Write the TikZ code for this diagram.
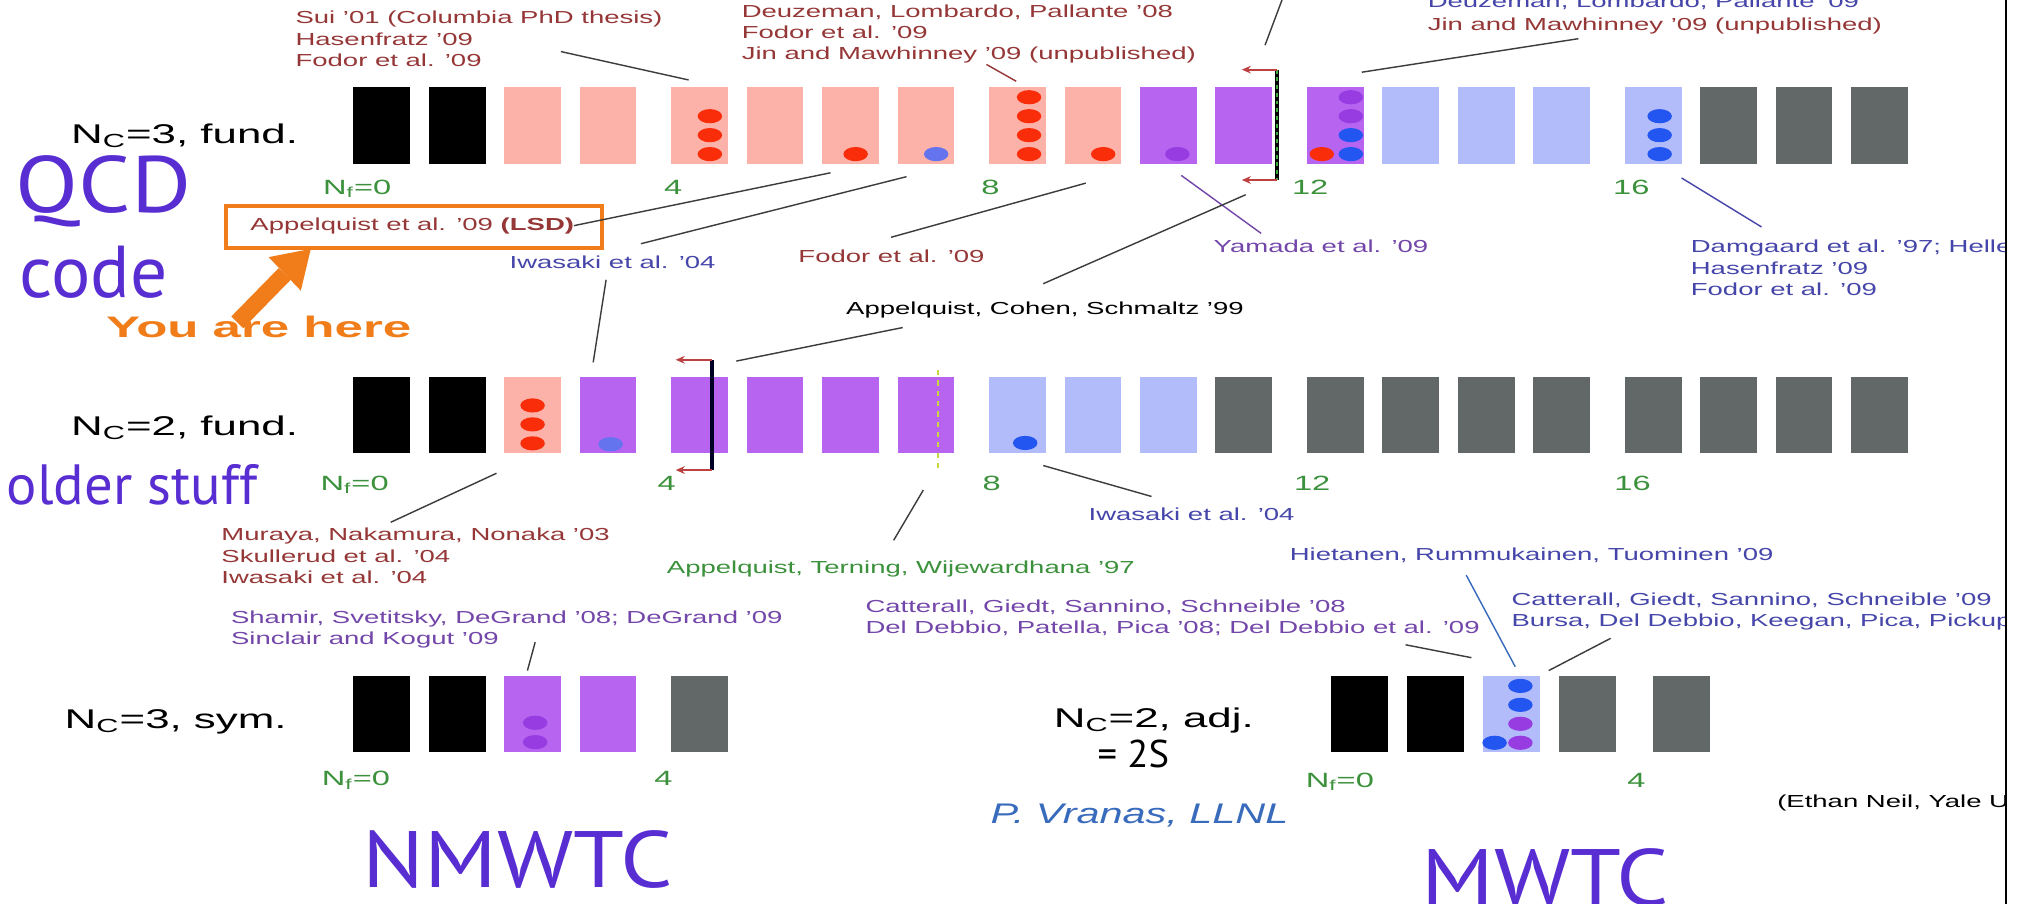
\documentclass[tikz,border=0pt]{standalone}
\usepackage{fontspec}
\setmainfont{Liberation Sans}
\newfontfamily\gillfont{PT Sans}
\usepackage{graphicx}
\usetikzlibrary{arrows.meta}

\definecolor{pinkc}{RGB}{252,178,168}
\definecolor{purpc}{RGB}{183,100,240}
\definecolor{bluec}{RGB}{178,188,250}
\definecolor{grayc}{RGB}{98,104,104}
\definecolor{dotr}{RGB}{250,45,10}
\definecolor{dotb}{RGB}{35,85,240}
\definecolor{dotp}{RGB}{150,60,225}
\definecolor{dotbp}{RGB}{100,115,238}
\definecolor{redtxt}{RGB}{150,55,55}
\definecolor{bluetxt}{RGB}{70,70,170}
\definecolor{purptxt}{RGB}{115,70,170}
\definecolor{greentxt}{RGB}{60,145,60}
\definecolor{leadc}{RGB}{60,60,60}
\definecolor{bigviolet}{RGB}{88,45,210}
\definecolor{orng}{RGB}{240,125,25}
\definecolor{arrred}{RGB}{190,65,65}
\definecolor{dashg}{RGB}{60,170,60}
\definecolor{dashy}{RGB}{200,215,60}

% stretched text block, first line on the baseline
\newcommand{\sx}[2][1.58]{\scalebox{#1}[1]{\begin{tabular}[t]{@{}l@{}}#2\end{tabular}}}
% wide caps for the overlay words
\newcommand{\wide}[1]{\scalebox{1.15}[1]{#1}}
% one flavour dot inside a cell
\newcommand{\blob}[4]{\fill[#4] ([shift={(#2,#3)}]#1.south west) ellipse [x radius=9.5pt, y radius=5.5pt];}

\begin{document}
\begin{tikzpicture}[x=1pt,y=-1pt,
    cell/.style={minimum width=44pt,minimum height=59.5pt,inner sep=0pt,outer sep=0pt,anchor=north west},
    reftxt/.style={inner sep=0pt,anchor=base west,font=\fontsize{13.5}{16.5}\selectfont},
    rowtxt/.style={inner sep=0pt,anchor=base west,font=\fontsize{21}{24}\selectfont},
    numtxt/.style={inner sep=0pt,anchor=base,text=greentxt,font=\fontsize{16}{18}\selectfont},
    bigtxt/.style={inner sep=0pt,anchor=base west,text=bigviolet,font=\gillfont\fontsize{60}{60}\selectfont},
    lead/.style={draw=leadc,line width=1.1pt},
    brarrow/.style={draw=arrred,line width=1.5pt,-{Stealth[length=7pt,width=6pt]}}]
\useasboundingbox (0,0) rectangle (1568,701);
\fill[white] (0,0) rectangle (1568,701);

\begin{scope}
\clip (0,0) rectangle (1555,701);

% ---- N_C=3, fund.
\foreach \c [count=\i from 0] in {black,black,pinkc,pinkc,pinkc,pinkc,pinkc,pinkc,pinkc,pinkc,purpc,purpc,purpc,bluec,bluec,bluec,bluec,grayc,grayc,grayc}
  \node[cell,fill=\c] (a\i) at ({274+58.5*\i+12.5*int(\i/4)},67.5) {};
\foreach \k in {0,1,2} {\blob{a4}{30}{-7.5-14.7*\k}{dotr}}
\blob{a6}{26}{-7.5}{dotr}
\blob{a7}{30}{-7.5}{dotbp}
\foreach \k in {0,...,3} {\blob{a8}{31}{-7.5-14.7*\k}{dotr}}
\blob{a9}{30}{-7.5}{dotr}
\blob{a10}{29}{-7.5}{dotp}
\blob{a12}{34}{-7.5}{dotb}
\blob{a12}{34}{-22.2}{dotb}
\blob{a12}{34}{-36.9}{dotp}
\blob{a12}{34}{-51.6}{dotp}
\blob{a12}{11.5}{-7.5}{dotr}
\foreach \k in {0,1,2} {\blob{a16}{27}{-7.5-14.7*\k}{dotb}}

% ---- N_C=2, fund.
\foreach \c [count=\i from 0] in {black,black,pinkc,purpc,purpc,purpc,purpc,purpc,bluec,bluec,bluec,grayc,grayc,grayc,grayc,grayc,grayc,grayc,grayc,grayc}
  \node[cell,fill=\c] (b\i) at ({274+58.5*\i+12.5*int(\i/4)},292) {};
\foreach \k in {0,1,2} {\blob{b2}{22}{-7.7-14.7*\k}{dotr}}
\blob{b3}{24}{-7}{dotbp}
\blob{b8}{28}{-8}{dotb}

% ---- N_C=3, sym.
\foreach \c [count=\i from 0] in {black,black,purpc,purpc,grayc}
  \node[cell,fill=\c] (c\i) at ({274+58.5*\i+12.5*int(\i/4)},524) {};
\blob{c2}{24}{-8}{dotp}
\blob{c2}{24}{-23}{dotp}

% ---- N_C=2, adj.
\foreach \c [count=\i from 0] in {black,black,bluec,grayc,grayc}
  \node[cell,fill=\c] (d\i) at ({1032+59*\i+14*int(\i/4)},524) {};
\blob{d2}{29}{-7.5}{dotp}
\blob{d2}{29}{-22.2}{dotp}
\blob{d2}{29}{-36.9}{dotb}
\blob{d2}{29}{-51.6}{dotb}
\blob{d2}{9}{-7.5}{dotb}

% brackets
\coordinate (k1t) at (990,54);
\coordinate (k1b) at (990,139.6);
\coordinate (k1tl) at (963,54);
\coordinate (k1bl) at (963,139.6);
\draw[line width=3pt] (k1t) -- (k1b);
\draw[line width=1.8pt,dashg,dash pattern=on 3pt off 3pt] (k1t) -- (k1b);
\draw[brarrow] (k1t) -- (k1tl);
\draw[brarrow] (k1b) -- (k1bl);
\coordinate (k2t) at (552,279);
\coordinate (k2b) at (552,364.5);
\coordinate (k2tl) at (524,279);
\coordinate (k2bl) at (524,364.5);
\draw[line width=3pt,black!85!blue] (k2t) -- (k2b);
\draw[brarrow] (k2t) -- (k2tl);
\draw[brarrow] (k2b) -- (k2bl);
\coordinate (k3t) at (727.6,287);
\coordinate (k3b) at (727.6,364.5);
\draw[line width=1.8pt,dashy,dash pattern=on 4pt off 4pt] (k3t) -- (k3b);

% row labels and flavour numbers
\node[rowtxt] (r1) at (55,111) {\sx[1.62]{N\textsubscript{C}=3, fund.}};
\node[rowtxt] (r2) at (55,338) {\sx[1.62]{N\textsubscript{C}=2, fund.}};
\node[rowtxt] (r3) at (50,565) {\sx[1.62]{N\textsubscript{C}=3, sym.}};
\node[rowtxt] (r4) at (817,564) {\sx[1.62]{N\textsubscript{C}=2, adj.}};
\node[numtxt] at (277,150.5) {\sx{N\textsubscript{f}=0}};
\node[numtxt] at (522,150.5) {\sx{4}};
\node[numtxt] at (768,150.5) {\sx{8}};
\node[numtxt] at (1016,150.5) {\sx{12}};
\node[numtxt] at (1265,150.5) {\sx{16}};
\node[numtxt] at (275,380) {\sx{N\textsubscript{f}=0}};
\node[numtxt] at (517,380) {\sx{4}};
\node[numtxt] at (769,380) {\sx{8}};
\node[numtxt] at (1017.6,380) {\sx{12}};
\node[numtxt] at (1266,380) {\sx{16}};
\node[numtxt] at (276,609.5) {\sx{N\textsubscript{f}=0}};
\node[numtxt] at (514.5,609.5) {\sx{4}};
\node[numtxt] at (1039,610.5) {\sx{N\textsubscript{f}=0}};
\node[numtxt] at (1269,610.5) {\sx{4}};

% references
\node[reftxt,text=redtxt] (sui) at (229,18.5) {\sx{Sui '01 (Columbia PhD thesis)\\Hasenfratz '09\\Fodor et al. '09}};
\node[reftxt,text=redtxt] (deu08) at (575,13.5) {\sx{Deuzeman, Lombardo, Pallante '08\\Fodor et al. '09\\Jin and Mawhinney '09 (unpublished)}};
\node[reftxt,text=bluetxt] (deu09) at (1107,6) {\sx{Deuzeman, Lombardo, Pallante '09}};
\node[reftxt,text=redtxt] (jin09) at (1107,23.5) {\sx{Jin and Mawhinney '09 (unpublished)}};
\node[draw=orng,line width=3pt,minimum width=291pt,minimum height=33pt,inner sep=0pt,anchor=north west] (lsdbox) at (174,158) {};
\node[reftxt,text=redtxt] (lsd) at (194,179) {\sx{Appelquist et al. '09 \textbf{(LSD)}}};
\node[reftxt,text=bluetxt] (iwa1) at (395,208.5) {\sx{Iwasaki et al. '04}};
\node[reftxt,text=redtxt] (fod) at (619,203.5) {\sx{Fodor et al. '09}};
\node[reftxt,text=purptxt] (yam) at (941,196) {\sx{Yamada et al. '09}};
\node[reftxt] (acs) at (656,243.5) {\sx{Appelquist, Cohen, Schmaltz '99}};
\node[reftxt,text=bluetxt] (dam) at (1311,196) {\sx{Damgaard et al. '97; Heller\\Hasenfratz '09\\Fodor et al. '09}};
\node[reftxt,text=redtxt] (mur) at (171.5,419.5) {\sx{Muraya, Nakamura, Nonaka '03\\Skullerud et al. '04\\Iwasaki et al. '04}};
\node[reftxt,text=greentxt] (atw) at (517,445) {\sx{Appelquist, Terning, Wijewardhana '97}};
\node[reftxt,text=bluetxt] (iwa2) at (844,404) {\sx{Iwasaki et al. '04}};
\node[reftxt,text=bluetxt] (hie) at (1000,435) {\sx{Hietanen, Rummukainen, Tuominen '09}};
\node[reftxt,text=purptxt] (cat08) at (671,475) {\sx{Catterall, Giedt, Sannino, Schneible '08\\Del Debbio, Patella, Pica '08; Del Debbio et al. '09}};
\node[reftxt,text=bluetxt] (cat09) at (1172,469.5) {\sx{Catterall, Giedt, Sannino, Schneible '09\\Bursa, Del Debbio, Keegan, Pica, Pickup '09}};
\node[reftxt,text=purptxt] (sham) at (179,483.5) {\sx{Shamir, Svetitsky, DeGrand '08; DeGrand '09\\Sinclair and Kogut '09}};
\node[inner sep=0pt,anchor=base west,text=bluetxt!80!cyan,font=\itshape\fontsize{22}{24}\selectfont] (vra) at (768,638.5) {\sx[1.46]{P. Vranas, LLNL}};
\node[reftxt] (eth) at (1378,626.5) {\sx{(Ethan Neil, Yale University)}};

% leader lines
\coordinate (sui-s) at (435,40);    \coordinate (sui-e) at (534,62);
\coordinate (deu-s) at (765,50);    \coordinate (deu-e) at (788,63);
\coordinate (top-s) at (996,-5);    \coordinate (top-e) at (981,35);
\coordinate (jin-s) at (1224,30);   \coordinate (jin-e) at (1056,56);
\coordinate (lsd-s) at (445,175);   \coordinate (lsd-e) at (644,134);
\coordinate (iwa-s) at (497,189);   \coordinate (iwa-e) at (703,137);
\coordinate (iwb-s) at (470,217);   \coordinate (iwb-e) at (460,281);
\coordinate (fod-s) at (691,184);   \coordinate (fod-e) at (842,142);
\coordinate (yam-s) at (978,181);   \coordinate (yam-e) at (916,136);
\coordinate (acs-s) at (809,220);   \coordinate (acs-e) at (966,151);
\coordinate (acb-s) at (700,254);   \coordinate (acb-e) at (571,280);
\coordinate (dam-s) at (1366,176);  \coordinate (dam-e) at (1304,138);
\coordinate (mur-s) at (303,405);   \coordinate (mur-e) at (385,367);
\coordinate (atw-s) at (693,419);   \coordinate (atw-e) at (716,380);
\coordinate (iwc-s) at (893,385);   \coordinate (iwc-e) at (809,361);
\coordinate (hie-s) at (1137,446);  \coordinate (hie-e) at (1175,517);
\coordinate (c08-s) at (1090,500);  \coordinate (c08-e) at (1141,510);
\coordinate (c09-s) at (1249,495);  \coordinate (c09-e) at (1201,520);
\coordinate (sha-s) at (415,498);   \coordinate (sha-e) at (409,520);
\draw[lead] (sui-s) -- (sui-e);
\draw[lead,redtxt] (deu-s) -- (deu-e);
\draw[lead] (top-s) -- (top-e);
\draw[lead] (jin-s) -- (jin-e);
\draw[lead] (lsd-s) -- (lsd-e);
\draw[lead] (iwa-s) -- (iwa-e);
\draw[lead] (iwb-s) -- (iwb-e);
\draw[lead] (fod-s) -- (fod-e);
\draw[lead,purptxt] (yam-s) -- (yam-e);
\draw[lead] (acs-s) -- (acs-e);
\draw[lead] (acb-s) -- (acb-e);
\draw[lead,bluetxt] (dam-s) -- (dam-e);
\draw[lead] (mur-s) -- (mur-e);
\draw[lead] (atw-s) -- (atw-e);
\draw[lead] (iwc-s) -- (iwc-e);
\draw[lead,bluetxt!80!cyan] (hie-s) -- (hie-e);
\draw[lead] (c08-s) -- (c08-e);
\draw[lead] (c09-s) -- (c09-e);
\draw[lead] (sha-s) -- (sha-e);

% you are here
\coordinate (yah-tail) at (184,250);
\coordinate (yah-neck) at (220.8,212.4);
\coordinate (yah-tip) at (241,193);
\draw[orng,line width=13pt] (yah-tail) -- (yah-neck);
\fill[orng] (yah-tip) -- (233.3,225.4) -- (208.3,199.4) -- cycle;
\node[inner sep=0pt,anchor=base west,text=orng,font=\bfseries\fontsize{23}{24}\selectfont] (yah) at (82,262) {\sx[1.72]{You are here}};

% overlay labels
\node[bigtxt,font=\gillfont\fontsize{62}{62}\selectfont] (qcd) at (12,165) {\wide{QCD}};
\node[bigtxt,font=\gillfont\fontsize{57}{57}\selectfont] (code) at (15,231) {code};
\node[bigtxt,font=\gillfont\fontsize{44}{44}\selectfont] (older) at (5,391.6) {older stuff};
\node[bigtxt,font=\gillfont\fontsize{62}{62}\selectfont] (nmwtc) at (281,688) {\wide{NMWTC}};
\node[bigtxt,font=\gillfont\fontsize{62}{62}\selectfont] (mwtc) at (1102,702) {\wide{MWTC}};
\node[inner sep=0pt,anchor=base west,font=\gillfont\fontsize{30}{30}\selectfont] (twos) at (851,595) {= 2S};
\end{scope}

\draw[line width=1.6pt] (1555.6,0) -- (1555.6,701);
\end{tikzpicture}
\end{document}
